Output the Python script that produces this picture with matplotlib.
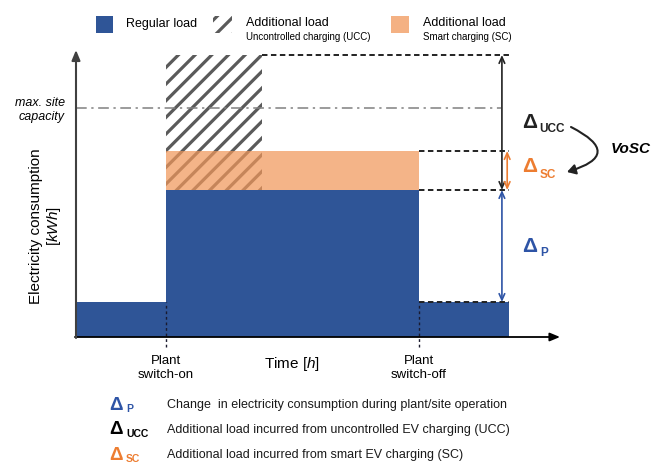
import matplotlib.pyplot as plt
from matplotlib.patches import Rectangle, FancyArrowPatch

plt.rcParams['font.family'] = ['Liberation Sans', 'DejaVu Sans']
plt.rcParams['mathtext.fontset'] = 'custom'
plt.rcParams['mathtext.rm'] = 'Liberation Sans'
plt.rcParams['mathtext.it'] = 'Liberation Sans:italic'
plt.rcParams['hatch.linewidth'] = 2.3

# schematic load profile (time in h, load in arbitrary kWh units)
period_start = [0, 4.1, 15.6]
period_end = [4.1, 15.6, 19.7]
regular_load = [3.5, 14.7, 3.5]
smart_extra = [0, 3.9, 0]
ucc_start, ucc_end = 4.1, 8.45
ucc_extra = 13.5
max_capacity = 22.9
switch_on, switch_off = 4.1, 15.6

BLUE = '#2F5597'
ORANGE_FILL = '#F0975A'
ORANGE = '#ED7D31'
BLUE_TXT = '#2E54A6'
GRAY = '#5A5A5A'
DARK = '#222222'

W, H = 664, 463
fig = plt.figure(figsize=(W / 100, H / 100), dpi=100)
ax = fig.add_axes([76 / W, (H - 337) / H, (560 - 76) / W, (337 - 50) / H])
ax.set_xlim(0, 22)
ax.set_ylim(0, 28.7)
ax.axis('off')

widths = [e - s for s, e in zip(period_start, period_end)]
plant = regular_load[1]
base = regular_load[2]
sc_top = plant + smart_extra[1]
ucc_top = plant + ucc_extra
end = period_end[-1]

# bars
ax.bar(ucc_start, ucc_extra, width=ucc_end - ucc_start, bottom=plant, align='edge',
       facecolor='none', edgecolor=GRAY, hatch='//', linewidth=0, zorder=2)
ax.bar(period_start, smart_extra, width=widths, bottom=regular_load, align='edge',
       color=ORANGE_FILL, alpha=0.72, linewidth=0, zorder=2.5)
ax.bar(period_start, regular_load, width=widths, align='edge', color=BLUE,
       linewidth=0, zorder=3)

# helper lines
ax.hlines(max_capacity, 0, 19.3, colors='#808080', linestyles=(0, (7, 3, 1.5, 3)),
          lw=1.1, zorder=2.6)
ax.hlines(ucc_top, ucc_end, end, colors=DARK, linestyles=(0, (2.8, 1.8)), lw=1.4, zorder=4)
ax.hlines([sc_top, plant, base], switch_off, end, colors=DARK,
          linestyles=(0, (2.8, 1.8)), lw=1.4, zorder=4)
ax.vlines([switch_on, switch_off], -1.0, base, colors='#1a1a2e',
          linestyles=(0, (2, 2)), lw=1.0, zorder=4, clip_on=False)

# axes arrows
ax.annotate('', xy=(22, 0), xytext=(-0.05, 0), annotation_clip=False,
            arrowprops=dict(arrowstyle='-|>,head_length=0.6,head_width=0.25',
                            color='black', lw=1.3, shrinkA=0, shrinkB=0), zorder=5)
ax.annotate('', xy=(0, 28.7), xytext=(0, -0.1), annotation_clip=False,
            arrowprops=dict(arrowstyle='-|>,head_length=0.6,head_width=0.25',
                            color='#404040', lw=1.5, shrinkA=0, shrinkB=0), zorder=5)

# delta arrows
def dbl_arrow(x, y0, y1, color):
    ax.annotate('', xy=(x, y1), xytext=(x, y0), annotation_clip=False,
                arrowprops=dict(arrowstyle='<->,head_length=0.45,head_width=0.2',
                                color=color, lw=1.2, shrinkA=0, shrinkB=0), zorder=5)

dbl_arrow(19.36, plant, ucc_top, DARK)
dbl_arrow(19.6, plant, sc_top, ORANGE)
dbl_arrow(19.36, base, plant, BLUE_TXT)


def ftext(x, y, s, **kw):
    kw.setdefault('va', 'center')
    return fig.text(x / W, 1 - y / H, s, **kw)


def fpos(x, y):
    return (x / W, 1 - y / H)


# legend
fig.add_artist(Rectangle(fpos(96, 33), 17 / W, 17 / H, transform=fig.transFigure,
                         color=BLUE, lw=0))
fig.add_artist(Rectangle(fpos(213, 33), 19 / W, 17 / H, transform=fig.transFigure,
                         facecolor='none', edgecolor=GRAY, hatch='//', lw=0))
fig.add_artist(Rectangle(fpos(391, 33), 18 / W, 17 / H, transform=fig.transFigure,
                         color='#F4B183', lw=0))
ftext(126, 24, 'Regular load', fontsize=9)
ftext(246, 23, 'Additional load', fontsize=9)
ftext(246, 37, 'Uncontrolled charging (UCC)', fontsize=7)
ftext(423, 23, 'Additional load', fontsize=9)
ftext(423, 37, 'Smart charging (SC)', fontsize=7)

# axis texts
ftext(65, 103, 'max. site', fontsize=9, style='italic', ha='right')
ftext(65, 117, 'capacity', fontsize=9, style='italic', ha='right')
ftext(46, 226, 'Electricity consumption\n[$\\it{kWh}$]', fontsize=11, rotation=90,
      ha='center', multialignment='center', linespacing=1.15)
ftext(166, 368, 'Plant\nswitch-on', fontsize=9.5, ha='center', linespacing=1.15)
ftext(419, 368, 'Plant\nswitch-off', fontsize=9.5, ha='center', linespacing=1.15)
ftext(292, 364, 'Time [$\\it{h}$]', fontsize=11, ha='center')

# delta labels in chart
ftext(522, 122, 'Δ', fontsize=15, weight='bold', color=DARK)
ftext(539, 129, 'UCC', fontsize=8.5, weight='bold', color=DARK)
ftext(522, 167, 'Δ', fontsize=15, weight='bold', color=ORANGE)
ftext(540, 175, 'SC', fontsize=8.5, weight='bold', color=ORANGE)
ftext(522, 246, 'Δ', fontsize=15, weight='bold', color=BLUE_TXT)
ftext(540, 253, 'P', fontsize=8.5, weight='bold', color=BLUE_TXT)
ftext(631, 149, 'VoSC', fontsize=11, weight='bold', style='italic', ha='center')
fig.add_artist(FancyArrowPatch(fpos(571, 127), fpos(567, 172), transform=fig.transFigure,
                               connectionstyle='arc3,rad=-1.25',
                               arrowstyle='-|>,head_length=5,head_width=3',
                               color=DARK, lw=1.5, shrinkA=0, shrinkB=0))

# key below the chart
key_rows = [
    ('P', 'Change  in electricity consumption during plant/site operation', BLUE_TXT),
    ('UCC', 'Additional load incurred from uncontrolled EV charging (UCC)', 'black'),
    ('SC', 'Additional load incurred from smart EV charging (SC)', ORANGE),
]
for i, (sub, desc, col) in enumerate(key_rows):
    y = 405 + 25 * i
    ftext(109, y, 'Δ', fontsize=13.5, weight='bold', color=col)
    ftext(126, y + 4, sub, fontsize=7.5, weight='bold', color=col)
    ftext(167, y, desc, fontsize=9, color='#1a1a1a')

fig.savefig('out.png', dpi=100)
